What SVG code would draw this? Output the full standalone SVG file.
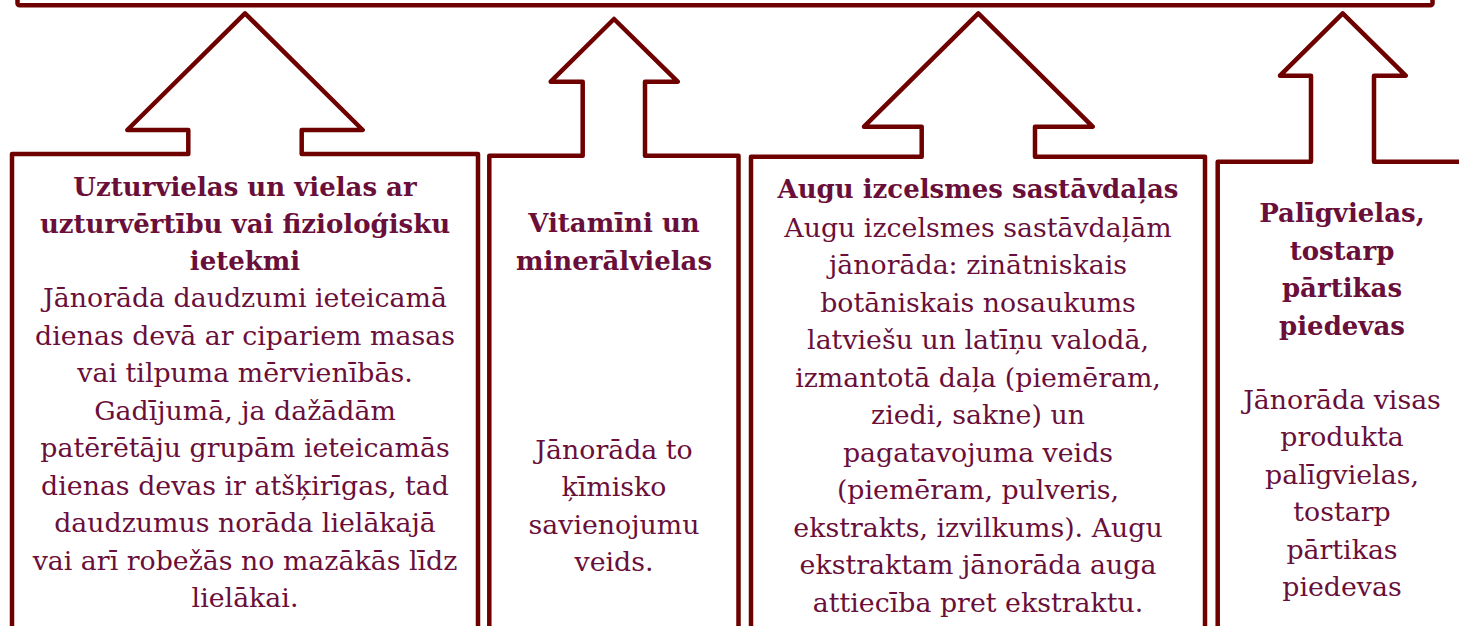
<svg xmlns="http://www.w3.org/2000/svg" width="1459" height="626" viewBox="0 0 1459 626">
<style>
.shape{fill:#ffffff;stroke:#6e0000;stroke-width:4.5;stroke-linejoin:round}
text{font-family:"DejaVu Serif",serif;fill:#6a0f3a;text-anchor:middle}
.t{font-size:26px;font-weight:bold}
.b{font-size:26.8px}
</style>
<rect width="1459" height="626" fill="#ffffff"/>
<g id="top-bar">
<rect class="shape" x="17.5" y="-50" width="1415" height="55.3" rx="2"/>
</g>
<g id="connectors"></g>
<g id="node1">
<path class="shape" d="M12,640 V154 H188.3 V130 H127.3 L245,13.3 L362.7,130 H301.7 V154 H478 V640"/>
<text class="t" x="245" y="196">Uzturvielas un vielas ar</text>
<text class="t" x="245" y="233">uzturvērtību vai fizioloģisku</text>
<text class="t" x="245" y="270">ietekmi</text>
<text class="b" x="245" y="307">Jānorāda daudzumi ieteicamā</text>
<text class="b" x="245" y="344.5">dienas devā ar cipariem masas</text>
<text class="b" x="245" y="382">vai tilpuma mērvienībās.</text>
<text class="b" x="245" y="419.5">Gadījumā, ja dažādām</text>
<text class="b" x="245" y="457">patērētāju grupām ieteicamās</text>
<text class="b" x="245" y="494.5">dienas devas ir atšķirīgas, tad</text>
<text class="b" x="245" y="532">daudzumus norāda lielākajā</text>
<text class="b" x="245" y="569.5">vai arī robežās no mazākās līdz</text>
<text class="b" x="245" y="607">lielākai.</text>
</g>
<g id="node2">
<path class="shape" d="M489.3,640 V155.7 H582.7 V81.7 H550.7 L614,19 L677.7,81.7 H645 V155.7 H738.5 V640"/>
<text class="t" x="614" y="232">Vitamīni un</text>
<text class="t" x="614" y="270">minerālvielas</text>
<text class="b" x="614" y="458.5">Jānorāda to</text>
<text class="b" x="614" y="496">ķīmisko</text>
<text class="b" x="614" y="533.5">savienojumu</text>
<text class="b" x="614" y="571">veids.</text>
</g>
<g id="node3">
<path class="shape" d="M751,640 V156.7 H921.7 V126.7 H864 L978.3,13.3 L1092.7,126.7 H1035 V156.7 H1205 V640"/>
<text class="t" x="978" y="198">Augu izcelsmes sastāvdaļas</text>
<text class="b" x="978" y="236.5">Augu izcelsmes sastāvdaļām</text>
<text class="b" x="978" y="274">jānorāda: zinātniskais</text>
<text class="b" x="978" y="311.5">botāniskais nosaukums</text>
<text class="b" x="978" y="349">latviešu un latīņu valodā,</text>
<text class="b" x="978" y="386.5">izmantotā daļa (piemēram,</text>
<text class="b" x="978" y="424">ziedi, sakne) un</text>
<text class="b" x="978" y="461.5">pagatavojuma veids</text>
<text class="b" x="978" y="499">(piemēram, pulveris,</text>
<text class="b" x="978" y="536.5">ekstrakts, izvilkums). Augu</text>
<text class="b" x="978" y="574">ekstraktam jānorāda auga</text>
<text class="b" x="978" y="611.5">attiecība pret ekstraktu.</text>
</g>
<g id="node4">
<path class="shape" d="M1217.7,640 V161.7 H1311 V75.7 H1280 L1342.7,13.3 L1405.7,75.7 H1374 V161.7 H1480"/>
<text class="t" x="1342" y="222">Palīgvielas,</text>
<text class="t" x="1342" y="259.5">tostarp</text>
<text class="t" x="1342" y="297">pārtikas</text>
<text class="t" x="1342" y="334.5">piedevas</text>
<text class="b" x="1342" y="408.5">Jānorāda visas</text>
<text class="b" x="1342" y="446">produkta</text>
<text class="b" x="1342" y="483.5">palīgvielas,</text>
<text class="b" x="1342" y="521">tostarp</text>
<text class="b" x="1342" y="558.5">pārtikas</text>
<text class="b" x="1342" y="596">piedevas</text>
</g>
</svg>
